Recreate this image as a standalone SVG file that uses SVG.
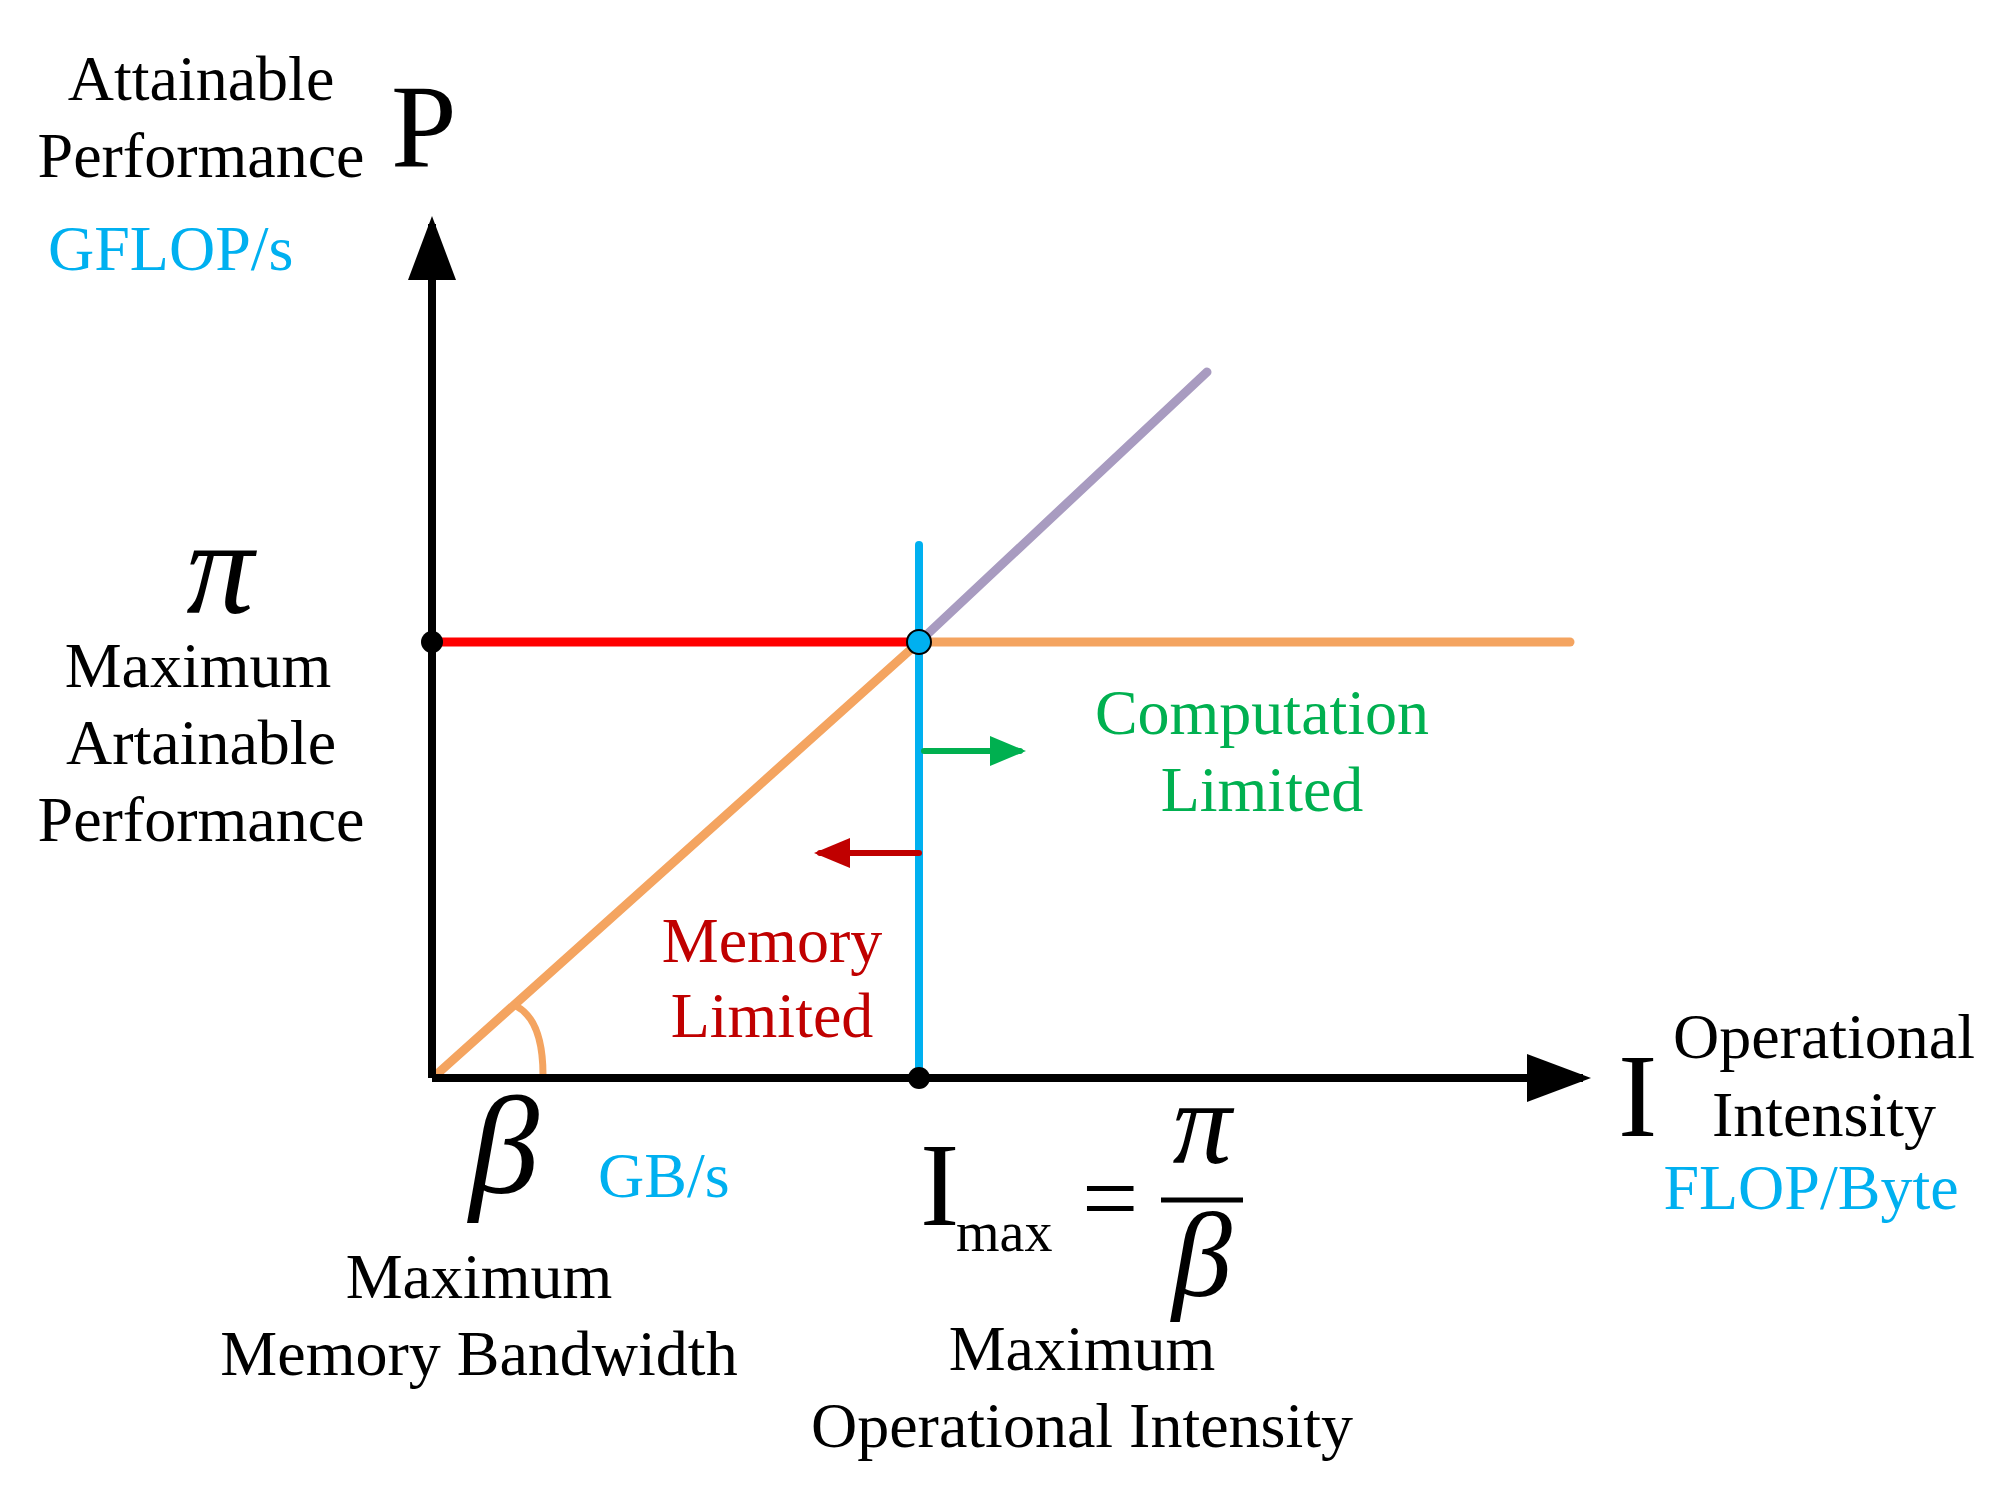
<svg xmlns="http://www.w3.org/2000/svg" width="2002" height="1486" viewBox="0 0 2002 1486">
<style>
text{font-family:"Liberation Serif","Times New Roman",serif;font-size:64px;fill:#000}
.c{text-anchor:middle}
.b{fill:#00b0f0}
.g{fill:#00b050}
.r{fill:#c00000}
.i{font-style:italic}
</style>
<defs>
<marker id="ak" markerWidth="8" markerHeight="6" refX="7" refY="3" orient="auto" markerUnits="strokeWidth"><path d="M0,0L8,3L0,6z" fill="#000"/></marker>
<marker id="ag" markerWidth="6" markerHeight="5" refX="5" refY="2.5" orient="auto" markerUnits="strokeWidth"><path d="M0,0L6,2.5L0,5z" fill="#00b050"/></marker>
<marker id="ar" markerWidth="6" markerHeight="5" refX="5" refY="2.5" orient="auto" markerUnits="strokeWidth"><path d="M0,0L6,2.5L0,5z" fill="#c00000"/></marker>
</defs>
<rect width="2002" height="1486" fill="#fff"/>
<g id="connectors" fill="none" stroke-linecap="round">
<line x1="432" y1="642" x2="919" y2="642" stroke="#ff0000" stroke-width="9"/>
<line x1="919" y1="642" x2="1570" y2="642" stroke="#f4a460" stroke-width="9"/>
<line x1="436" y1="1075" x2="919" y2="642" stroke="#f4a460" stroke-width="9"/>
<line x1="919" y1="642" x2="1207" y2="372" stroke="#a89bc0" stroke-width="9"/>
<line x1="919" y1="545" x2="919" y2="1078" stroke="#00b0f0" stroke-width="8"/>
<path d="M516,1006 Q543,1020 543,1075" stroke="#f4a460" stroke-width="7"/>
<line x1="924" y1="751" x2="1020" y2="751" stroke="#00b050" stroke-width="6" marker-end="url(#ag)"/>
<line x1="919" y1="853" x2="820" y2="853" stroke="#c00000" stroke-width="6" marker-end="url(#ar)"/>
<line x1="432" y1="1078" x2="432" y2="224" stroke="#000" stroke-width="8" stroke-linecap="butt" marker-end="url(#ak)"/>
<line x1="432" y1="1078" x2="1583" y2="1078" stroke="#000" stroke-width="8" stroke-linecap="butt" marker-end="url(#ak)"/>
</g>
<g id="dots">
<circle cx="432" cy="642" r="11" fill="#000"/>
<circle cx="919" cy="1078" r="11" fill="#000"/>
<circle cx="919" cy="642" r="12" fill="#00b0f0" stroke="#000" stroke-width="2"/>
</g>
<g id="yaxis-labels">
<text class="c" x="201" y="100">Attainable</text>
<text class="c" x="201" y="177">Performance</text>
<text x="391" y="167" style="font-size:118px">P</text>
<text class="b" x="48" y="270">GFLOP/s</text>
<text class="c i" x="220" y="613" style="font-size:135px">π</text>
<text class="c" x="198" y="687">Maximum</text>
<text class="c" x="201" y="764">Artainable</text>
<text class="c" x="201" y="841">Performance</text>
</g>
<g id="region-labels">
<text class="c g" x="1262" y="734">Computation</text>
<text class="c g" x="1262" y="811">Limited</text>
<text class="c r" x="772" y="962">Memory</text>
<text class="c r" x="772" y="1037">Limited</text>
</g>
<g id="xaxis-labels">
<text class="c i" x="504" y="1193" style="font-size:140px">β</text>
<text class="b" x="598" y="1197">GB/s</text>
<text class="c" x="479" y="1298">Maximum</text>
<text class="c" x="479" y="1375">Memory Bandwidth</text>
<text x="920" y="1225" style="font-size:118px">I</text>
<text x="956" y="1251" style="font-size:56px">max</text>
<text x="1082" y="1232" style="font-size:100px">=</text>
<line x1="1161" y1="1200" x2="1243" y2="1200" stroke="#000" stroke-width="5"/>
<text class="c i" x="1202" y="1163" style="font-size:118px">π</text>
<text class="c i" x="1202" y="1296" style="font-size:120px">β</text>
<text class="c" x="1082" y="1370">Maximum</text>
<text class="c" x="1082" y="1447">Operational Intensity</text>
<text x="1618" y="1136" style="font-size:118px">I</text>
<text class="c" x="1824" y="1058">Operational</text>
<text class="c" x="1824" y="1136">Intensity</text>
<text class="c b" x="1811" y="1209">FLOP/Byte</text>
</g>
</svg>
